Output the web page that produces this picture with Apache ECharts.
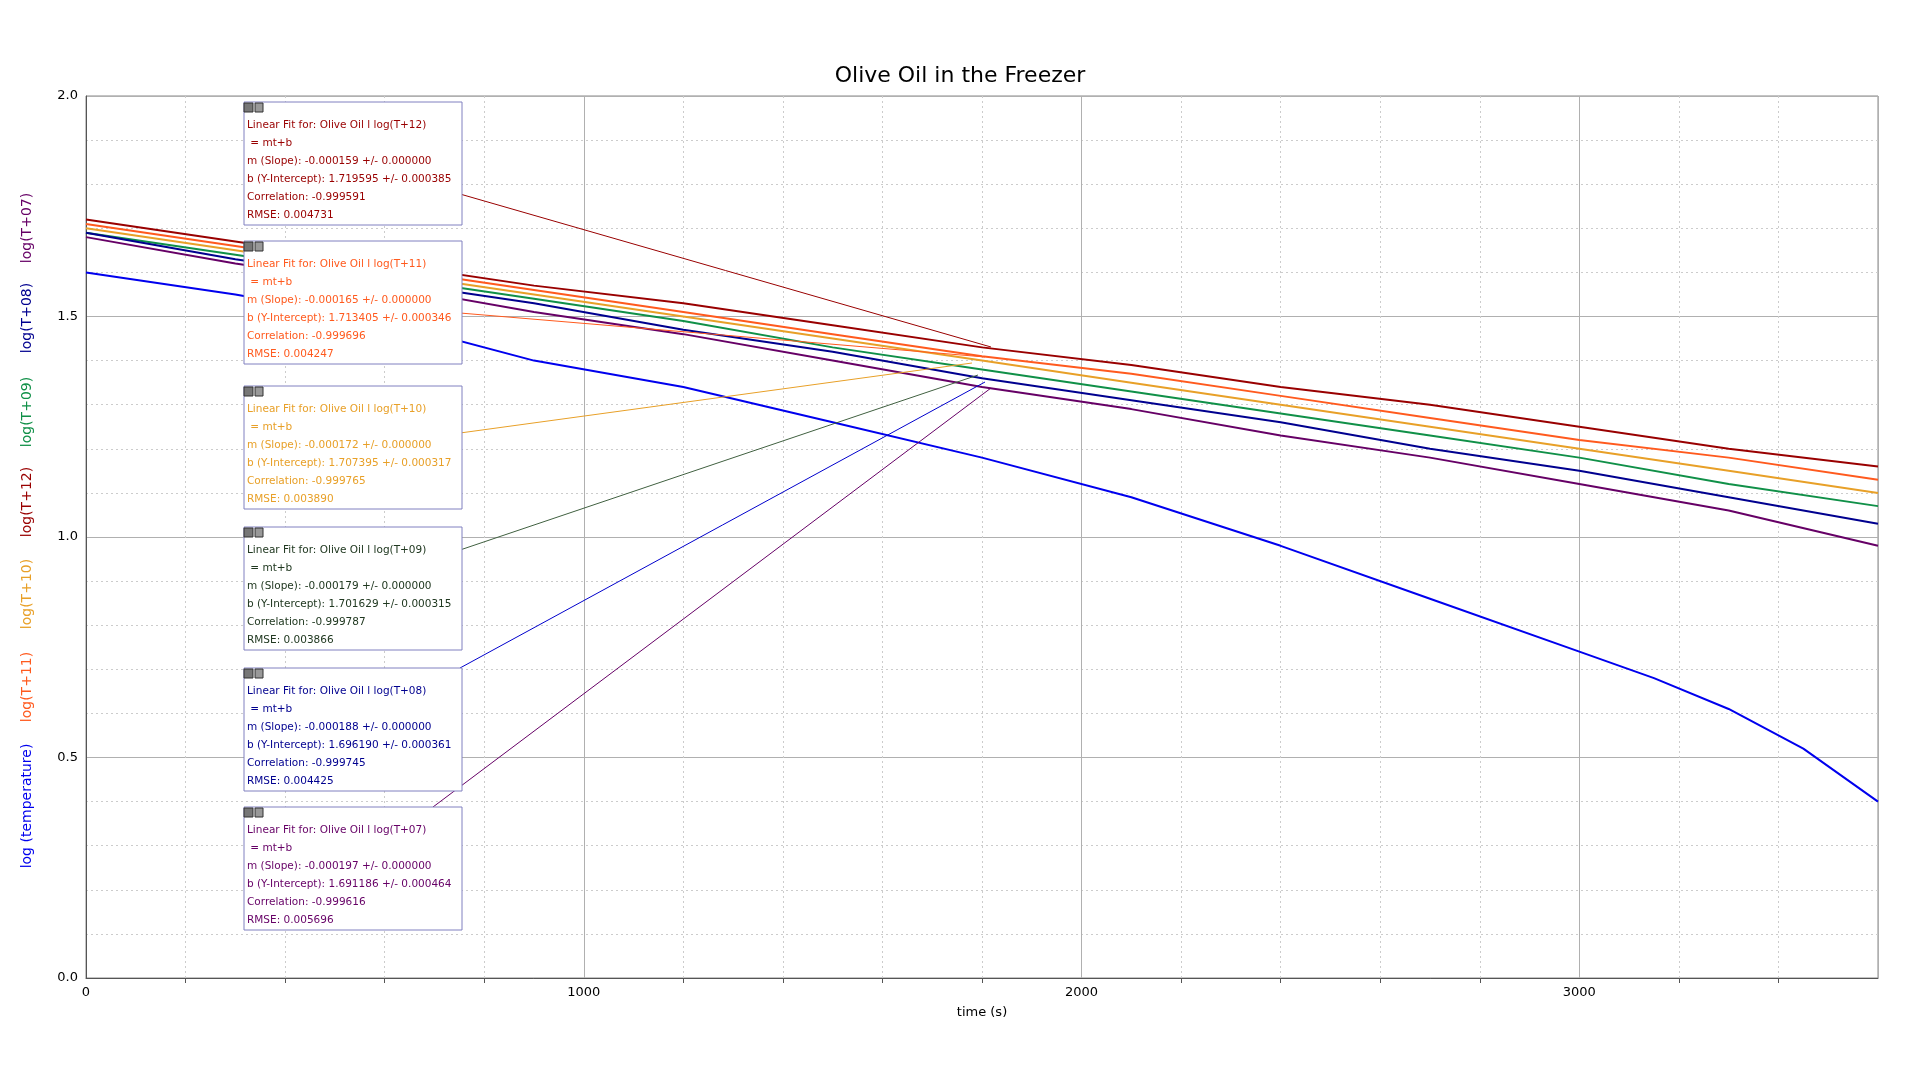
<!DOCTYPE html>
<html><head><meta charset="utf-8">
<script src="https://cdn.jsdelivr.net/npm/echarts@6/dist/echarts.min.js"></script>
<style>html,body{margin:0;background:#fff}#c{width:1920px;height:1080px}</style>
</head><body><div id="c"></div>
<script>
const times = [0,300,600,900,1200,1500,1800,2100,2400,2700,3000,3300,3600];
const logT12 = [1.72,1.67,1.62,1.57,1.53,1.48,1.43,1.39,1.34,1.30,1.25,1.20,1.16];
const logT11 = [1.71,1.66,1.61,1.56,1.51,1.46,1.41,1.37,1.32,1.27,1.22,1.18,1.13];
const logT10 = [1.70,1.65,1.60,1.55,1.50,1.45,1.40,1.35,1.30,1.25,1.20,1.15,1.10];
const logT09 = [1.69,1.64,1.59,1.54,1.49,1.43,1.38,1.33,1.28,1.23,1.18,1.12,1.07];
const logT08 = [1.69,1.63,1.58,1.53,1.47,1.42,1.36,1.31,1.26,1.20,1.15,1.09,1.03];
const logT07 = [1.68,1.62,1.57,1.51,1.46,1.40,1.34,1.29,1.23,1.18,1.12,1.06,0.98];
const tempTimes = [0,300,600,900,1200,1500,1800,2100,2400,2700,3000,3150,3300,3450,3600];
const logTemp = [1.60,1.55,1.49,1.40,1.34,1.26,1.18,1.09,0.98,0.86,0.74,0.68,0.61,0.52,0.40];

const seriesDefs = [
  {name:'log(T+12)', x:times, data:logT12, color:'#990000'},
  {name:'log(T+11)', x:times, data:logT11, color:'#ff5a1e'},
  {name:'log(T+10)', x:times, data:logT10, color:'#e8a028'},
  {name:'log(T+09)', x:times, data:logT09, color:'#109048'},
  {name:'log(T+08)', x:times, data:logT08, color:'#00008f'},
  {name:'log(T+07)', x:times, data:logT07, color:'#660066'},
  {name:'log (temperature)', x:tempTimes, data:logTemp, color:'#0000ee'}
];
const fits = [
  {k:'T+12', m:'-0.000159', b:'1.719595', be:'0.000385', r:'-0.999591', e:'0.004731', color:'#990000', line:'#990000'},
  {k:'T+11', m:'-0.000165', b:'1.713405', be:'0.000346', r:'-0.999696', e:'0.004247', color:'#ff5a1e', line:'#ff5a1e'},
  {k:'T+10', m:'-0.000172', b:'1.707395', be:'0.000317', r:'-0.999765', e:'0.003890', color:'#e8a028', line:'#e8a028'},
  {k:'T+09', m:'-0.000179', b:'1.701629', be:'0.000315', r:'-0.999787', e:'0.003866', color:'#203820', line:'#406040'},
  {k:'T+08', m:'-0.000188', b:'1.696190', be:'0.000361', r:'-0.999745', e:'0.004425', color:'#00008f', line:'#0000cc'},
  {k:'T+07', m:'-0.000197', b:'1.691186', be:'0.000464', r:'-0.999616', e:'0.005696', color:'#660066', line:'#660066'}
];
const boxY = [102,241,386,527,668,807];
const leaders = [[460,194,991,347],[460,313,985,357],[460,433,972,363],[460,550,978,375],[460,668,985,382],[433,807,991,388]];
const axisLabels = [
  {t:'log(T+07)', y:228, c:'#660066'},{t:'log(T+08)', y:318, c:'#00008f'},{t:'log(T+09)', y:412, c:'#109048'},
  {t:'log(T+12)', y:502, c:'#990000'},{t:'log(T+10)', y:594, c:'#e8a028'},{t:'log(T+11)', y:687, c:'#ff5a1e'},
  {t:'log (temperature)', y:806, c:'#0000ee'}
];

const graphic = [];
leaders.forEach((l,i)=>graphic.push({type:'line',shape:{x1:l[0],y1:l[1],x2:l[2],y2:l[3]},style:{stroke:fits[i].line,lineWidth:1},z:50}));
fits.forEach((f,i)=>{
  const y=boxY[i];
  graphic.push({type:'rect',shape:{x:244,y:y,width:218,height:123},style:{fill:'#fff',stroke:'#8080c0',lineWidth:1},z:60});
  graphic.push({type:'rect',shape:{x:244,y:y+1,width:9,height:9},style:{fill:'#777',stroke:'#333'},z:61});
  graphic.push({type:'rect',shape:{x:255,y:y+1,width:8,height:9},style:{fill:'#999',stroke:'#333'},z:61});
  const lines=['Linear Fit for: Olive Oil l log('+f.k+')',' = mt+b','m (Slope): '+f.m+' +/- 0.000000','b (Y-Intercept): '+f.b+' +/- '+f.be,'Correlation: '+f.r,'RMSE: '+f.e];
  graphic.push({type:'text',x:247,y:y+14,style:{text:lines.join('\n'),fill:f.color,font:'10.5px "DejaVu Sans"',lineHeight:18},z:62});
});
axisLabels.forEach(a=>graphic.push({type:'text',x:27,y:a.y,rotation:Math.PI/2,style:{text:a.t,fill:a.c,font:'14px "DejaVu Sans"',align:'center',verticalAlign:'middle'}}));

const chart = echarts.init(document.getElementById('c'));
chart.setOption({
  animation:false,
  title:{text:'Olive Oil in the Freezer',left:'center',top:60,textStyle:{fontFamily:'DejaVu Sans',fontWeight:'normal',fontSize:22,color:'#000'}},
  grid:{left:86,right:42,top:96,bottom:102,show:true,borderColor:'#888',borderWidth:1},
  xAxis:{type:'value',min:0,max:3600,interval:1000,name:'time (s)',nameLocation:'middle',nameGap:28,
    nameTextStyle:{fontFamily:'DejaVu Sans',fontSize:13,color:'#000'},
    axisLine:{lineStyle:{color:'#555'}},axisTick:{show:false},minorTick:{show:true,splitNumber:5,length:5,lineStyle:{color:'#555'}},
    axisLabel:{color:'#000',fontSize:13,fontFamily:'DejaVu Sans',showMaxLabel:false,formatter:v=>String(v)},
    splitLine:{lineStyle:{color:'#b0b0b0',width:1}},minorSplitLine:{show:true,lineStyle:{color:'#ccc',type:[2,3]}}},
  yAxis:{type:'value',min:0,max:2,interval:0.5,
    axisLine:{show:true,lineStyle:{color:'#555'}},axisTick:{show:false},
    axisLabel:{color:'#000',fontSize:13,fontFamily:'DejaVu Sans',formatter:v=>v.toFixed(1)},
    splitLine:{lineStyle:{color:'#b0b0b0'}},minorTick:{show:false,splitNumber:5},minorSplitLine:{show:true,lineStyle:{color:'#ccc',type:[2,3]}}},
  series: seriesDefs.map(s=>({type:'line',name:s.name,data:s.x.map((t,i)=>[t,s.data[i]]),showSymbol:false,
    lineStyle:{color:s.color,width:2},itemStyle:{color:s.color},z:10})),
  graphic: graphic
});
</script></body></html>
